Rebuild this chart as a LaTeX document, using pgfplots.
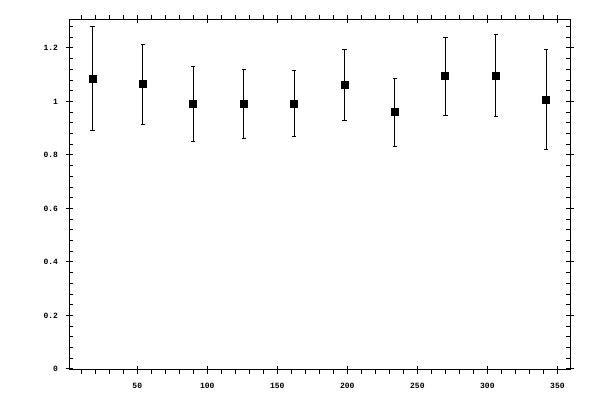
\documentclass[border=0pt]{standalone}
\usepackage{fontspec}
\usepackage{pgfplots}
\pgfplotsset{compat=1.18}
\setmainfont{Liberation Mono}

\pgfplotstableread{
x    y      err
18   1.086  0.195
54   1.064  0.149
90   0.992  0.140
126  0.989  0.129
162  0.992  0.125
198  1.060  0.133
234  0.959  0.127
270  1.094  0.146
306  1.097  0.155
342  1.007  0.188
}\ratios

\pgfplotsset{
  frame/.style={
    scale only axis, width=250.25pt, height=175.35pt,
    at={(34.75pt,15pt)}, anchor=south west,
    xmin=1.6, xmax=359, ymin=-0.004, ymax=1.307,
    axis line style={line width=0.5pt},
    every tick/.style={black, line width=0.5pt},
    major tick length=3.8pt, minor tick length=2pt,
  },
}

\begin{document}
\begin{tikzpicture}
\path[use as bounding box] (0,0) rectangle (300pt,200pt);

% major ticks, centred on the frame, plus the data
\begin{axis}[frame,
  tick align=center,
  xtick={50,100,...,350}, ytick={0,0.2,...,1.2},
  yticklabels={0,0.2,0.4,0.6,0.8,1,1.2},
  /pgf/number format/assume math mode=true,
  tick label style={font=\fontsize{4}{5}\selectfont\bfseries},
  xticklabel style={yshift=-1pt},
  yticklabel style={xshift=-0.3pt},
]
\addplot[black, only marks, mark=square*, mark size=1.75pt,
  error bars/.cd, y dir=both, y explicit,
  error bar style={line width=0.5pt},
  error mark options={rotate=90, mark size=1.1pt, line width=0.5pt}]
  table[x=x, y=y, y error=err] {\ratios};
\end{axis}

% minor x ticks point outwards
\begin{axis}[frame, tick align=outside,
  xtick={50,100,...,350}, xticklabels={}, ytick=\empty,
  major tick length=0pt,
  minor xtick={10,20,...,350}]
\end{axis}

% minor y ticks point inwards
\begin{axis}[frame, tick align=inside,
  ytick={0,0.2,...,1.2}, yticklabels={}, xtick=\empty,
  major tick length=0pt,
  minor ytick={0.04,0.08,...,1.29}]
\end{axis}
\end{tikzpicture}
\end{document}
